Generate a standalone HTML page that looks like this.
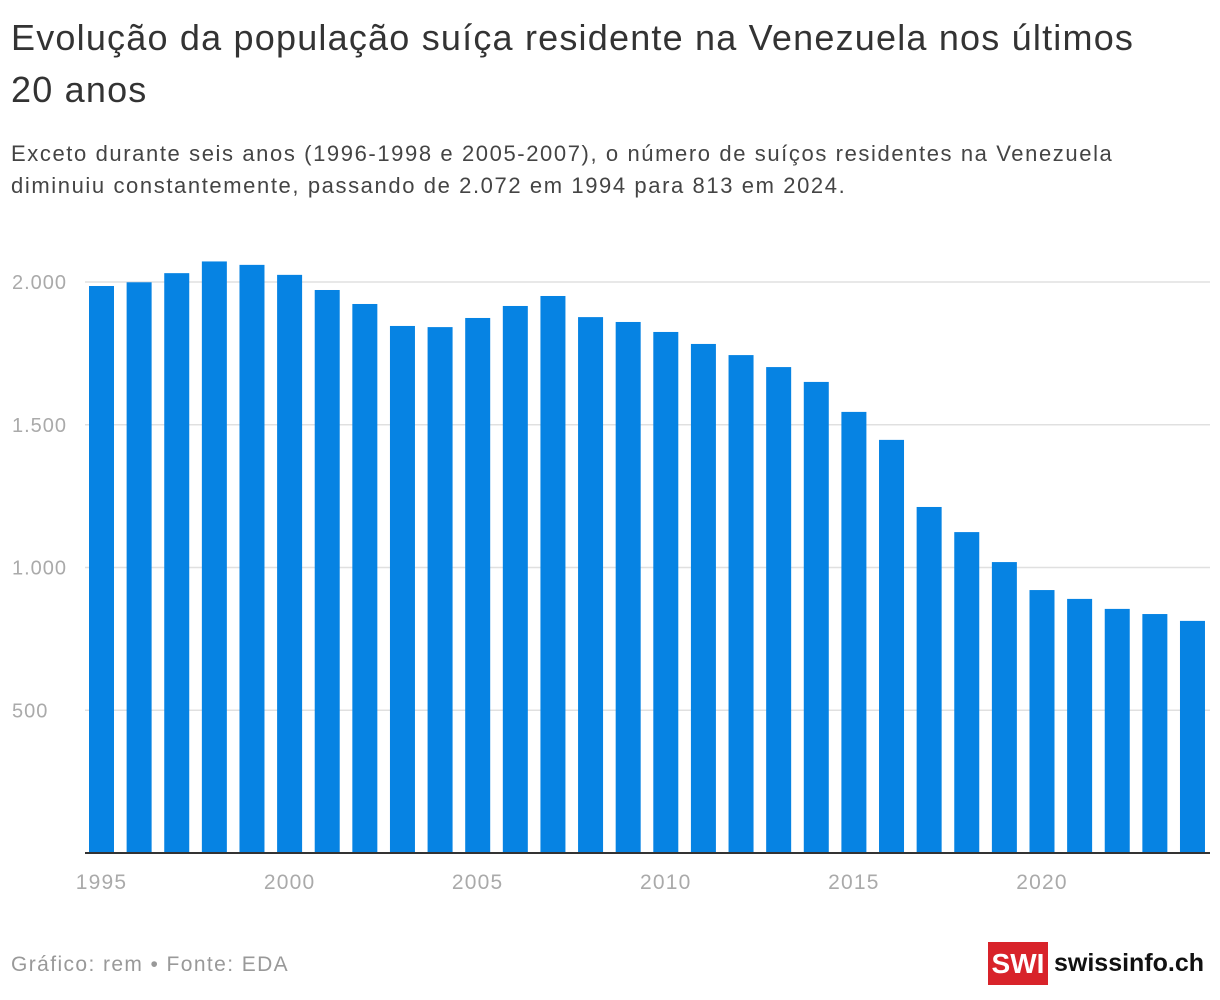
<!DOCTYPE html>
<html><head><meta charset="utf-8">
<style>
body{margin:0;width:1220px;height:1000px;background:#fff;font-family:"Liberation Sans",sans-serif;overflow:hidden;position:relative}
h1{position:absolute;left:11px;top:12px;margin:0;font-weight:normal;font-size:36px;line-height:52px;color:#333;width:1170px;letter-spacing:1.2px}
.sub{position:absolute;left:11px;top:138px;font-size:22px;line-height:32px;color:#444;width:1160px;letter-spacing:1.6px}
.foot{position:absolute;left:11px;top:953px;font-size:21px;color:#999;letter-spacing:1.4px}
.logo{position:absolute;left:988px;top:942px;height:43px;display:flex;align-items:center}
.swi{background:#d8232a;color:#fff;font-weight:bold;font-size:28px;width:60px;height:43px;line-height:43px;text-align:center}
.si{font-weight:bold;font-size:25px;color:#111;margin-left:6px}
</style></head><body>
<h1>Evolução da população suíça residente na Venezuela nos últimos 20 anos</h1>
<div class="sub">Exceto durante seis anos (1996-1998 e 2005-2007), o número de suíços residentes na Venezuela diminuiu constantemente, passando de 2.072 em 1994 para 813 em 2024.</div>
<svg id="chart" width="1220" height="1000" style="position:absolute;left:0;top:0"></svg>
<div class="foot">Gráfico: rem • Fonte: EDA</div>
<div class="logo"><div class="swi">SWI</div><div class="si">swissinfo.ch</div></div>
<script>
const years=[1995,1996,1997,1998,1999,2000,2001,2002,2003,2004,2005,2006,2007,2008,2009,2010,2011,2012,2013,2014,2015,2016,2017,2018,2019,2020,2021,2022,2023,2024];
const values=[1986,1999,2031,2072,2060,2025,1972,1923,1846,1842,1874,1916,1951,1877,1860,1825,1783,1744,1702,1650,1545,1447,1212,1124,1019,921,890,855,837,813];
const yTicks=[500,1000,1500,2000];
const yTickLabels=["500","1.000","1.500","2.000"];
const xTicks=[1995,2000,2005,2010,2015,2020];
const NS="http://www.w3.org/2000/svg";
const svg=document.getElementById('chart');
const y0=853,pxPer=571/2000;
const y=v=>y0-v*pxPer;
const x=yr=>101.5+(yr-1995)*37.62;
const bw=25;
function mk(t,a){const e=document.createElementNS(NS,t);for(const k in a)e.setAttribute(k,a[k]);svg.appendChild(e);return e;}
yTicks.forEach((t,i)=>{
  const l=mk('line',{x1:85,x2:1210,y1:y(t),y2:y(t),stroke:'#e0e0e0','stroke-width':1.5});
  
  
  const tx=mk('text',{x:12,y:y(t)+7,'font-size':20,fill:'#aaa','letter-spacing':1,'font-family':'Liberation Sans, sans-serif'});
  tx.textContent=yTickLabels[i];
  
  
});
years.forEach((yr,i)=>{
  const r=mk('rect',{x:x(yr)-bw/2,y:y(values[i]),width:bw,height:y0-y(values[i]),fill:'#0683e3'});
  
  
});
const ax=mk('line',{x1:85,x2:1210,y1:y0,y2:y0,stroke:'#333','stroke-width':2});


xTicks.forEach(t=>{
  const tx=mk('text',{x:x(t),y:889,'font-size':21,fill:'#aaa','letter-spacing':1.2,'text-anchor':'middle','font-family':'Liberation Sans, sans-serif'});
  tx.textContent=t;
  
  
});
</script>
</body></html>
